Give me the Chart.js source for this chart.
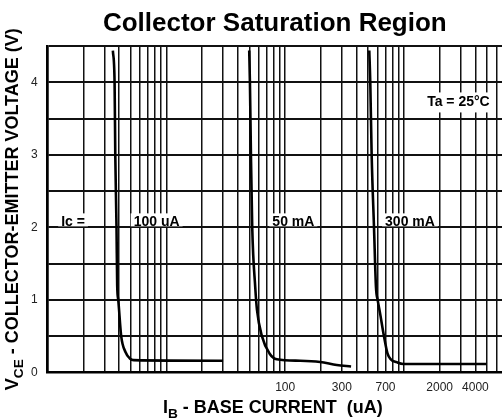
<!DOCTYPE html>
<html>
<head>
<meta charset="utf-8">
<script src="https://cdn.jsdelivr.net/npm/chart.js@4"></script>
<style>
	body { margin: 0; background: #fff; }
	#graphics-canvas { display: block; }
</style>
</head>
<body>
<canvas id="graphics-canvas" width="502" height="420"></canvas>
<script>
// base current (uA) / collector-emitter voltage (V)
const ib_100ua = [3.54, 3.66, 3.71, 3.80, 3.85, 3.93, 4.16, 4.52, 4.92, 5.3, 30];
const vce_100ua = [4.44, 4.0, 3.0, 2.0, 1.2, 1.0, 0.5, 0.28, 0.19, 0.168, 0.16];

const ib_50ma = [49.8, 50.5, 51.5, 52.8, 56, 57.9, 63.7, 73.8, 85, 134, 197, 272, 359];
const vce_50ma = [4.44, 4.0, 3.0, 2.0, 1.17, 0.86, 0.5, 0.26, 0.18, 0.16, 0.142, 0.1, 0.08];

const ib_300ma = [511, 521, 535, 560, 582, 601, 629, 679, 727, 776, 869, 987, 4950];
const vce_300ma = [4.44, 4.0, 3.0, 2.0, 1.17, 1.0, 0.82, 0.5, 0.26, 0.18, 0.14, 0.115, 0.115];

const x_labels = [100, 300, 700, 2000, 4000];
const y_labels = [0, 1, 2, 3, 4];

const notes = [
	{ text: "Ic =", x: 1.3, y: 2 },
	{ text: "100 uA", x: 5.3, y: 2 },
	{ text: "50 mA", x: 78, y: 2 },
	{ text: "300 mA", x: 694, y: 2 },
	{ text: "Ta = 25°C", x: 1570, y: 3.655, tall: true }
];

const FONT = "'Liberation Sans', Arial, Helvetica, sans-serif";

function to_points (xs, ys) {
	return xs.map((x, i) => ({ x: x, y: ys[i] }));
}

function curve (xs, ys) {
	return {
		data: to_points(xs, ys),
		borderColor: "#000",
		borderWidth: 2.6,
		pointRadius: 0,
		cubicInterpolationMode: "monotone",
		fill: false
	};
}

// draws text with a subscript part, left to right from x
function draw_sub (ctx, parts, x, y, size) {
	let pos = x;
	parts.forEach(p => {
		let s = p.sub ? size * 0.76 : size;
		ctx.font = "bold " + s + "px " + FONT;
		ctx.fillText(p.text, pos, y + (p.sub ? size * 0.3 : 0));
		pos += ctx.measureText(p.text).width;
	});
}

function width_sub (ctx, parts, size) {
	let w = 0;
	parts.forEach(p => {
		let s = p.sub ? size * 0.76 : size;
		ctx.font = "bold " + s + "px " + FONT;
		w += ctx.measureText(p.text).width;
	});
	return w;
}

const labels_plugin = {
	id: "labels_plugin",
	afterDatasetsDraw (chart) {
		let ctx = chart.ctx;
		let xs = chart.scales.x;
		let ys = chart.scales.y;
		ctx.save();
		ctx.textBaseline = "alphabetic";
		ctx.font = "bold 14px " + FONT;
		notes.forEach(n => {
			let px = xs.getPixelForValue(n.x);
			let py = ys.getPixelForValue(n.y);
			let w = ctx.measureText(n.text).width;
			ctx.fillStyle = "#fff";
			if (n.tall) {
				ctx.fillRect(px - 5, py - 15, w + 8, 20);
			} else {
				ctx.fillRect(px - 3, py - 14, w + 6, 13);
			}
			ctx.fillStyle = "#000";
			ctx.fillText(n.text, px, py - 1);
		});
		ctx.restore();
	},
	afterDraw (chart) {
		let ctx = chart.ctx;
		let area = chart.chartArea;
		let size = 18;
		ctx.save();
		ctx.fillStyle = "#000";
		ctx.textBaseline = "alphabetic";

		let xt = [{ text: "I" }, { text: "B", sub: true }, { text: " - BASE CURRENT  (uA)" }];
		let wx = width_sub(ctx, xt, size);
		draw_sub(ctx, xt, (area.left + area.right) / 2 - wx / 2 - 2, 413, size);

		let yt = [{ text: "V" }, { text: "CE", sub: true }, { text: " - COLLECTOR-EMITTER VOLTAGE (V)" }];
		let wy = width_sub(ctx, yt, size);
		ctx.translate(18, (area.top + area.bottom) / 2);
		ctx.rotate(-Math.PI / 2);
		draw_sub(ctx, yt, -wy / 2, 0, size);
		ctx.restore();
	}
};

let canvas = document.getElementById("graphics-canvas");
let chart = new Chart(canvas, {
	type: "line",
	data: {
		datasets: [
			curve(ib_100ua, vce_100ua),
			curve(ib_50ma, vce_50ma),
			curve(ib_300ma, vce_300ma)
		]
	},
	plugins: [labels_plugin],
	options: {
		responsive: false,
		animation: false,
		devicePixelRatio: 1,
		layout: { padding: { left: 21, right: 0, top: 0, bottom: 16.5 } },
		plugins: {
			legend: { display: false },
			tooltip: { enabled: false },
			title: {
				display: true,
				text: "Collector Saturation Region",
				color: "#000",
				fullSize: false,
				font: { family: FONT, size: 26, weight: "bold" },
				padding: { top: 8, bottom: 7 }
			}
		},
		scales: {
			x: {
				type: "logarithmic",
				min: 1,
				max: 6700,
				afterBuildTicks (axis) {
					let list = [];
					[1, 10, 100, 1000].forEach(d => {
						for (let m = 1; m <= 9; m++) {
							if (m * d <= 6700) list.push({ value: m * d });
						}
					});
					axis.ticks = list;
				},
				grid: { color: "#111", lineWidth: 1.5, drawTicks: false },
				border: { color: "#000", width: 2.5 },
				ticks: {
					autoSkip: false,
					maxRotation: 0,
					padding: 0,
					color: "#222",
					font: { family: FONT, size: 12, lineHeight: 2.6 },
					callback: v => x_labels.includes(v) ? String(v) : ""
				}
			},
			y: {
				min: 0,
				max: 4.5,
				grid: { color: "#111", lineWidth: 2, drawTicks: false },
				border: { color: "#000", width: 2.5 },
				ticks: {
					stepSize: 0.5,
					padding: 10,
					color: "#222",
					font: { family: FONT, size: 12 },
					callback: v => y_labels.includes(v) ? String(v) : ""
				}
			}
		}
	}
});
</script>
</body>
</html>
